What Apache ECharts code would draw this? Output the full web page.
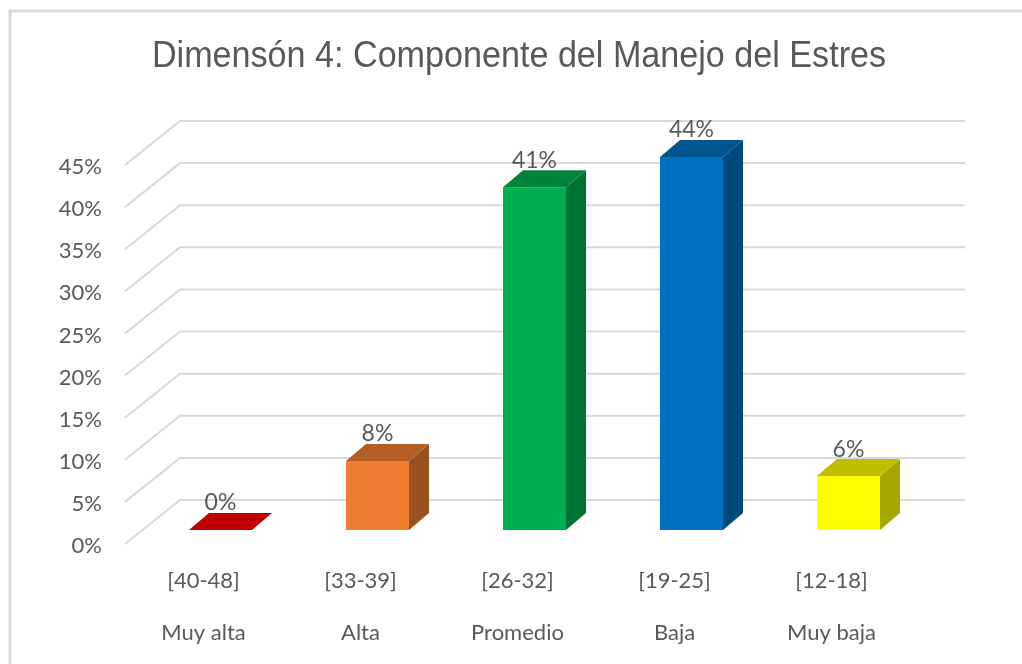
<!DOCTYPE html>
<html>
<head>
<meta charset="utf-8">
<style>
  html, body { margin: 0; padding: 0; background: #fff; }
  #chart { width: 1022px; height: 664px; }
</style>
<script src="https://cdn.jsdelivr.net/npm/echarts@6/dist/echarts.min.js"></script>
</head>
<body>
<div id="chart"></div>
<script>
var chartTitle = 'Dimensón 4: Componente del Manejo del Estres';
var ranges = ['[40-48]', '[33-39]', '[26-32]', '[19-25]', '[12-18]'];
var levels = ['Muy alta', 'Alta', 'Promedio', 'Baja', 'Muy baja'];
var values = [0, 8.2, 40.7, 44.3, 6.4];
var yTicks = [0, 5, 10, 15, 20, 25, 30, 35, 40, 45];

var frontColors = ['#c00000', '#ed7d31', '#00b050', '#0070c0', '#ffff00'];
var topColors = ['#c00000', '#b25e25', '#00843c', '#005490', '#bfbf00'];
var sideColors = ['#c00000', '#9a5120', '#007234', '#00497d', '#a6a600'];

var textColor = '#595959';
var gridColor = '#d9d9d9';
var font = 'Lato, "Open Sans", sans-serif';

// perspective of the fake 3D box
var floorDx = 55, floorDy = -44;   // front edge of the floor to the back wall
var barInDx = 17, barInDy = -14;   // bars stand a bit inside the floor
var barDx = 20, barDy = -17;       // depth of a bar
var barWidth = 63;

function renderWall(params, api) {
  var rect = params.coordSys;
  var p = api.coord([0, api.value(0)]);
  return {
    type: 'polyline',
    shape: {
      points: [
        [rect.x, p[1]],
        [rect.x + floorDx, p[1] + floorDy],
        [rect.x + rect.width + floorDx, p[1] + floorDy]
      ]
    },
    style: { stroke: gridColor, lineWidth: 2, fill: 'none' }
  };
}

function renderBar(params, api) {
  var i = api.value(0);
  var base = api.coord([i, 0]);
  var tip = api.coord([i, api.value(1)]);
  var l = base[0] + barInDx - barWidth / 2;
  var r = l + barWidth;
  var b = base[1] + barInDy;
  var t = tip[1] + barInDy;
  function poly(points, color) {
    return { type: 'polygon', shape: { points: points }, style: { fill: color } };
  }
  return {
    type: 'group',
    children: [
      poly([[l, b], [r, b], [r, t], [l, t]], frontColors[i]),
      poly([[r, b], [r + barDx, b + barDy], [r + barDx, t + barDy], [r, t]], sideColors[i]),
      poly([[l, t], [r, t], [r + barDx, t + barDy], [l + barDx, t + barDy]], topColors[i]),
      {
        type: 'text',
        style: {
          x: l + barWidth / 2,
          y: t + barDy - 10,
          text: Math.round(api.value(1)) + '%',
          align: 'center',
          verticalAlign: 'middle',
          fill: textColor,
          font: '23px ' + font
        }
      }
    ]
  };
}

var myChart = echarts.init(document.getElementById('chart'));
myChart.setOption({
  animation: false,
  backgroundColor: '#fff',
  graphic: [
    {
      type: 'rect',
      shape: { x: 10, y: 11, width: 1100, height: 800 },
      style: { fill: 'none', stroke: gridColor, lineWidth: 3 },
      silent: true
    },
    {
      // the title is squeezed a little in the original
      type: 'text',
      x: 519,
      y: 57,
      scaleX: 0.948,
      silent: true,
      style: {
        text: chartTitle,
        align: 'center',
        verticalAlign: 'middle',
        fill: textColor,
        font: '36px "Liberation Sans", sans-serif'
      }
    }
  ],
  grid: { left: 125, right: 112, top: 165, bottom: 120 },
  xAxis: {
    type: 'category',
    data: ranges.map(function (r, i) { return r + '\n' + levels[i]; }),
    axisLine: { show: false },
    axisTick: { show: false },
    axisLabel: {
      color: textColor,
      fontSize: 22,
      fontFamily: font,
      lineHeight: 52,
      margin: 11,
      interval: 0
    }
  },
  yAxis: {
    type: 'value',
    min: 0,
    max: 45,
    interval: 5,
    axisLine: { show: false },
    axisTick: { show: false },
    splitLine: { show: false },
    axisLabel: {
      color: textColor,
      fontSize: 22,
      fontFamily: font,
      margin: 23,
      verticalAlign: 'top',
      lineHeight: 4,
      formatter: '{value}%'
    }
  },
  series: [
    {
      type: 'custom',
      silent: true,
      renderItem: renderWall,
      data: yTicks.map(function (v) { return [v]; }),
      encode: { y: 0 },
      z: 1
    },
    {
      type: 'custom',
      renderItem: renderBar,
      data: values.map(function (v, i) { return [i, v]; }),
      encode: { x: 0, y: 1 },
      z: 2
    }
  ]
});
</script>
</body>
</html>
